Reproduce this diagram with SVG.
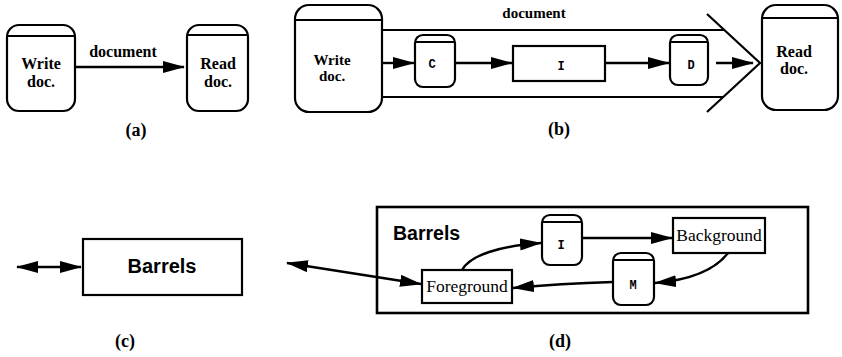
<svg xmlns="http://www.w3.org/2000/svg" width="842" height="357" viewBox="0 0 842 357">
  <style>
    .box { fill: #fff; stroke: #000; stroke-width: 2.2; }
    .cap { fill: none; stroke: #000; stroke-width: 1.8; }
    .edge { fill: none; stroke: #000; stroke-width: 2.4; }
    .pipe { fill: none; stroke: #000; stroke-width: 2.2; }
    .serifb { font-family: "Liberation Serif", "Times New Roman", serif; font-weight: bold; fill: #000; text-anchor: middle; }
    .serif { font-family: "Liberation Serif", "Times New Roman", serif; fill: #000; text-anchor: middle; }
    .mono { font-family: "Liberation Mono", "Courier New", monospace; font-weight: bold; fill: #000; text-anchor: middle; font-size: 12px; }
    .sansb { font-family: "Liberation Sans", Arial, sans-serif; font-weight: bold; fill: #000; }
  </style>
  <defs>
    <marker id="ah" viewBox="0 0 22 12" refX="21" refY="6" markerWidth="22" markerHeight="12" markerUnits="userSpaceOnUse" orient="auto-start-reverse">
      <path d="M0,0 L22,6 L0,12 z" fill="#000"/>
    </marker>
  </defs>

  <!-- (a) writer and reader joined by one document -->
  <g id="a-write">
    <rect class="box" x="7" y="25" width="68" height="86" rx="12"/>
    <line class="cap" x1="8" y1="36" x2="74" y2="36"/>
    <text class="serifb" x="41" y="69" font-size="16">Write</text>
    <text class="serifb" x="41" y="87" font-size="16">doc.</text>
  </g>
  <g id="a-read">
    <rect class="box" x="187" y="25" width="61" height="86" rx="12"/>
    <line class="cap" x1="188" y1="35" x2="247" y2="35"/>
    <text class="serifb" x="218" y="69" font-size="16">Read</text>
    <text class="serifb" x="218" y="87" font-size="16">doc.</text>
  </g>
  <text class="serifb" x="123" y="57" font-size="16">document</text>
  <text class="serifb" x="136" y="136" font-size="18">(a)</text>

  <!-- (b) the document as a pipe through C, I and D -->
  <g id="b-pipe">
    <line class="pipe" x1="382" y1="30" x2="724" y2="30"/>
    <line class="pipe" x1="382" y1="97" x2="724" y2="97"/>
    <polyline class="pipe" points="707,14 760,63 707,112"/>
  </g>
  <g id="b-write">
    <rect class="box" x="295" y="5" width="87" height="107" rx="14"/>
    <line class="cap" x1="296" y1="20" x2="381" y2="20"/>
    <text class="serifb" x="332" y="65" font-size="15">Write</text>
    <text class="serifb" x="332" y="81" font-size="15">doc.</text>
  </g>
  <g id="b-read">
    <rect class="box" x="762" y="5" width="76" height="105" rx="14"/>
    <line class="cap" x1="763" y1="18" x2="837" y2="18"/>
    <text class="serifb" x="794" y="57" font-size="16">Read</text>
    <text class="serifb" x="794" y="74" font-size="16">doc.</text>
  </g>
  <g id="b-c">
    <rect class="box" x="415" y="35" width="40" height="52" rx="8"/>
    <line class="cap" x1="416" y1="42" x2="454" y2="42"/>
    <text class="mono" x="432" y="68">C</text>
  </g>
  <g id="b-i">
    <rect class="box" x="513" y="46" width="92" height="35"/>
    <text class="mono" x="561" y="70">I</text>
  </g>
  <g id="b-d">
    <rect class="box" x="670" y="35" width="38" height="50" rx="8"/>
    <line class="cap" x1="671" y1="42" x2="707" y2="42"/>
    <text class="mono" x="691" y="69">D</text>
  </g>
  <text class="serifb" x="534" y="18" font-size="15">document</text>
  <text class="serifb" x="559" y="135" font-size="18">(b)</text>

  <!-- (c) the barrels as a single component -->
  <g id="c-barrels">
    <rect class="box" x="83" y="239" width="159" height="56"/>
    <text class="sansb" x="162" y="273" font-size="20" text-anchor="middle">Barrels</text>
  </g>
  <text class="serifb" x="125" y="347" font-size="18">(c)</text>

  <!-- (d) inside the barrels -->
  <g id="d-frame">
    <rect x="377" y="207" width="431" height="106" fill="none" stroke="#000" stroke-width="2.6"/>
    <text class="sansb" x="393" y="240" font-size="19.5">Barrels</text>
  </g>
  <g id="d-i">
    <rect class="box" x="542" y="215" width="40" height="50" rx="8"/>
    <line class="cap" x1="543" y1="222" x2="581" y2="222"/>
    <text class="mono" x="561" y="249">I</text>
  </g>
  <g id="d-background">
    <rect class="box" x="673" y="218" width="92" height="35"/>
    <text class="serif" x="719" y="241" font-size="17.5">Background</text>
  </g>
  <g id="d-m">
    <rect class="box" x="613" y="253" width="41" height="52" rx="8"/>
    <line class="cap" x1="614" y1="260" x2="653" y2="260"/>
    <text class="mono" x="633" y="289">M</text>
  </g>
  <g id="d-foreground">
    <rect class="box" x="422" y="270" width="90" height="33"/>
    <text class="serif" x="467" y="292" font-size="17.5">Foreground</text>
  </g>
  <text class="serifb" x="560" y="347" font-size="18">(d)</text>

  <!-- connectors -->
  <g id="connectors">
    <line class="edge" x1="76" y1="67" x2="184" y2="67" marker-end="url(#ah)"/>
    <line class="edge" x1="382" y1="63" x2="414" y2="63" marker-end="url(#ah)"/>
    <line class="edge" x1="456" y1="63" x2="512" y2="63" marker-end="url(#ah)"/>
    <line class="edge" x1="606" y1="63" x2="669" y2="63" marker-end="url(#ah)"/>
    <line class="edge" x1="716" y1="63" x2="753" y2="63" marker-end="url(#ah)"/>
    <line class="edge" x1="17" y1="267" x2="81" y2="267" marker-start="url(#ah)" marker-end="url(#ah)"/>
    <line class="edge" x1="287" y1="263" x2="421" y2="284" marker-start="url(#ah)" marker-end="url(#ah)"/>
    <path class="edge" d="M462,270 C470,255 500,246 541,243" marker-end="url(#ah)"/>
    <line class="edge" x1="582" y1="238" x2="672" y2="238" marker-end="url(#ah)"/>
    <path class="edge" d="M728,253 C715,270 690,280 655,283" marker-end="url(#ah)"/>
    <path class="edge" d="M613,282 C580,283 545,285 513,288" marker-end="url(#ah)"/>
  </g>
</svg>
